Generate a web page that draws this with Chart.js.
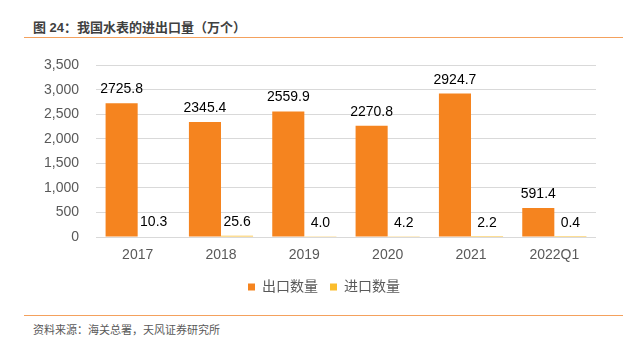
<!DOCTYPE html>
<html><head><meta charset="utf-8">
<script src="https://cdn.jsdelivr.net/npm/chart.js@4/dist/chart.umd.min.js"></script>
<style>
html,body{margin:0;padding:0;background:#fff;width:630px;height:348px;overflow:hidden;font-family:"Liberation Sans","Noto Sans CJK SC",sans-serif;}
#title{position:absolute;left:33px;top:17px;font-size:13px;color:#404040;font-weight:bold;font-family:"Liberation Sans","Noto Sans CJK SC",sans-serif;white-space:nowrap;}
#l1{position:absolute;left:24px;top:37px;width:599px;height:1px;background:#F4A15D;}
#l2{position:absolute;left:24px;top:315px;width:599px;height:1px;background:#F4A15D;}
#src{position:absolute;left:33px;top:321px;font-size:11px;color:#595959;white-space:nowrap;font-family:"Liberation Sans","Noto Sans CJK SC",sans-serif;}
#wrap{position:absolute;left:0;top:40px;width:630px;height:264px;}
</style></head><body>
<div id="title">图 24：我国水表的进出口量（万个）</div>
<div id="l1"></div>
<div id="wrap"><canvas id="c" width="630" height="264"></canvas></div>
<div id="l2"></div>
<div id="src">资料来源：海关总署，天风证券研究所</div>
<script>
const categories = ["2017","2018","2019","2020","2021","2022Q1"];
const exportValues = [2725.8,2345.4,2559.9,2270.8,2924.7,591.4];
const importValues = [10.3,25.6,4.0,4.2,2.2,0.4];
const seriesNames = ["出口数量","进口数量"];
const yTicks = [0,500,1000,1500,2000,2500,3000,3500];

const FONT = '"Liberation Sans","Noto Sans CJK SC",sans-serif';
const labelPlugin = {
  id:'barLabels',
  afterDatasetsDraw(chart){
    const ctx = chart.ctx;
    ctx.save();
    ctx.font = '14px ' + FONT;
    ctx.fillStyle = '#000';
    ctx.textAlign = 'center';
    ctx.textBaseline = 'alphabetic';
    chart.data.datasets.forEach((ds,i)=>{
      chart.getDatasetMeta(i).data.forEach((bar,j)=>{
        ctx.fillText(ds.data[j].toFixed(1), bar.x, bar.y - 10);
      });
    });
    ctx.restore();
  }
};
const legendShift = {
  id:'legendShift',
  afterUpdate(chart){
    const lg = chart.legend;
    if(!lg) return;
    const d = 26;
    lg.left += d; lg.right += d;
    lg.adjustHitBoxes();
  }
};

new Chart(document.getElementById('c'),{
  type:'bar',
  data:{
    labels:categories,
    datasets:[
      {label:seriesNames[0],data:exportValues,backgroundColor:'#F5841F',categoryPercentage:0.77,barPercentage:1.0},
      {label:seriesNames[1],data:importValues,backgroundColor:'#FBBD2C',categoryPercentage:0.77,barPercentage:1.0}
    ]
  },
  options:{
    responsive:false,
    animation:false,
    layout:{padding:{left:0,right:34,top:22,bottom:0}},
    plugins:{
      legend:{
        position:'bottom',
        labels:{boxWidth:7,boxHeight:7,color:'#595959',font:{size:14,family:FONT},padding:12}
      },
      tooltip:{enabled:false}
    },
    scales:{
      x:{
        grid:{display:false},
        border:{display:false},
        ticks:{color:'#595959',font:{size:14,family:FONT},padding:2},
        afterFit(s){s.height=31;}
      },
      y:{
        min:0,max:3500,
        afterBuildTicks(s){s.ticks = yTicks.map(v=>({value:v}));},
        afterFit(s){s.width=96;},
        grid:{color:'#D9D9D9',lineWidth:1,drawTicks:false},
        border:{display:false},
        ticks:{color:'#595959',font:{size:14,family:FONT},padding:17,
          callback:v=>v.toLocaleString('en-US')}
      }
    }
  },
  plugins:[labelPlugin, legendShift]
});
</script>
</body></html>
